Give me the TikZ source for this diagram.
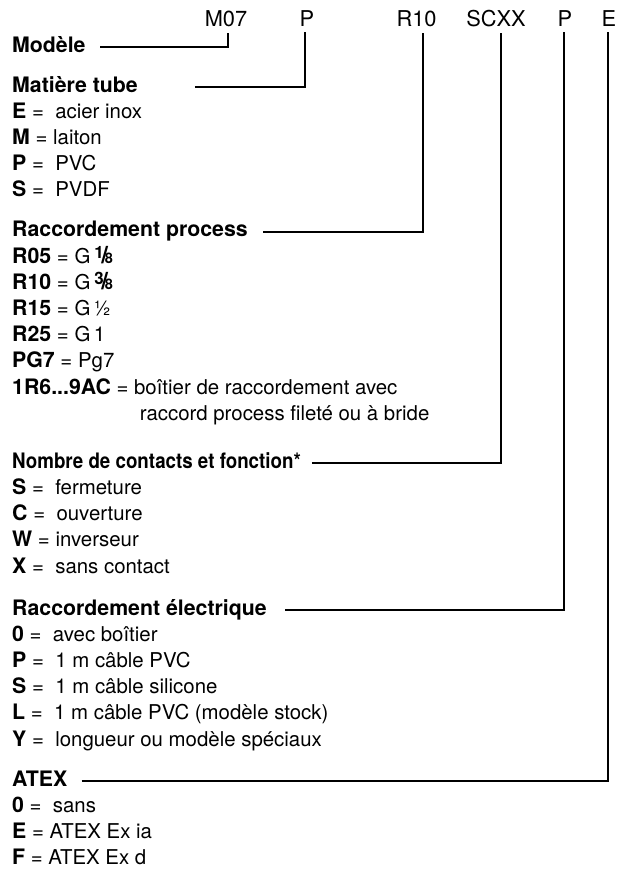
\documentclass[tikz,border=0pt]{standalone}
\usepackage{fontspec}
\setmainfont{TeX Gyre Heros}
\newcommand{\bx}[1]{{\fontsize{21.3}{26.2}\selectfont\bfseries #1}}
\newcommand{\gfrac}[2]{\kern0.2em\raisebox{4.6pt}{\fontsize{17}{17}\selectfont\bfseries #1}\kern-0.12em{\fontsize{24}{24}\selectfont\bfseries /}\kern-0.16em{\fontsize{14.5}{14.5}\selectfont\bfseries #2}}
\tikzset{
  txt/.style={inner sep=0pt, anchor=base west, align=left, font=\fontsize{20.4}{26.2}\selectfont},
  hdr/.style={txt, font=\fontsize{21.3}{26.2}\selectfont\bfseries},
  code/.style={inner sep=0pt, anchor=base, font=\fontsize{21.8}{26.2}\selectfont},
  conn/.style={line width=1.9pt}
}
\begin{document}
\begin{tikzpicture}[x=1pt,y=-1pt]
        \useasboundingbox (0,0) rectangle (621,870);
        % Codice
        \node[code] (c-mod) at (226,27) {M07};
        \node[code] (c-mat) at (307,27) {P};
        \node[code] (c-racc) at (416.5,27) {R10};
        \node[code] (c-cont) at (496,27) {SCXX};
        \node[code] (c-elec) at (565,27) {P};
        \node[code] (c-atex) at (609,27) {E};
        % Voci (blocchi ancorati all'ultima riga)
        \node[hdr] (modele) at (12,52) {Modèle};
        \node[hdr] (matiere) at (12,92) {Matière tube};
        \node[txt] (matiere-l) at (12,196.8) {\bx{E} = \ acier inox\\\bx{M} = laiton\\\bx{P} = \ PVC\\\bx{S} = \ PVDF};
        \node[hdr] (raccproc) at (12,236.8) {Raccordement process};
        \node[txt] (raccproc-l) at (12,420.2) {\bx{R05} = G\gfrac{1}{8}\\\bx{R10} = G\gfrac{3}{8}\\\bx{R15} = G\,½\\\bx{R25} = G\,1\\\bx{PG7} = Pg7\\\bx{1R6...9AC} = boîtier de raccordement avec\\\phantom{\bx{1R6...9AC} = }\ raccord process fileté ou à bride};
        \node[hdr] (contacts) at (12,468.2) {\scalebox{0.88}[1]{Nombre de contacts et fonction*}};
        \node[txt] (contacts-l) at (12,573) {\bx{S} = \ fermeture\\\bx{C} = \ ouverture\\\bx{W} = inverseur\\\bx{X} = \ sans contact};
        \node[hdr] (electr) at (12,615) {Raccordement électrique};
        \node[txt] (electr-l) at (12,746) {\bx{0} = \ avec boîtier\\\bx{P} = \ 1 m câble PVC\\\bx{S} = \ 1 m câble silicone\\\bx{L} = \ 1 m câble PVC (modèle stock)\\\bx{Y} = \ longueur ou modèle spéciaux};
        \node[hdr] (atex) at (12,786) {ATEX};
        \node[txt] (atex-l) at (12,864.6) {\bx{0} = \ sans\\\bx{E} = ATEX Ex ia\\\bx{F} = ATEX Ex d};
        % Linee
        \draw[conn] ([xshift=14.5pt,yshift=5pt]modele.base east) -| ([xshift=2pt,yshift=-5pt]c-mod.south);
        \draw[conn] ([xshift=57pt,yshift=5pt]matiere.base east) -| ([xshift=-2pt,yshift=-5pt]c-mat.south);
        \draw[conn] ([xshift=15.5pt,yshift=5pt]raccproc.base east) -| ([xshift=6.5pt,yshift=-5pt]c-racc.south);
        \draw[conn] ([xshift=11pt,yshift=5pt]contacts.base east) -| ([xshift=5pt,yshift=-5pt]c-cont.south);
        \draw[conn] ([xshift=18pt,yshift=5pt]electr.base east) -| ([xshift=-1pt,yshift=-5pt]c-elec.south);
        \draw[conn] ([xshift=14pt,yshift=5pt]atex.base east) -| ([xshift=-1pt,yshift=-5pt]c-atex.south);
    \end{tikzpicture}
\end{document}
